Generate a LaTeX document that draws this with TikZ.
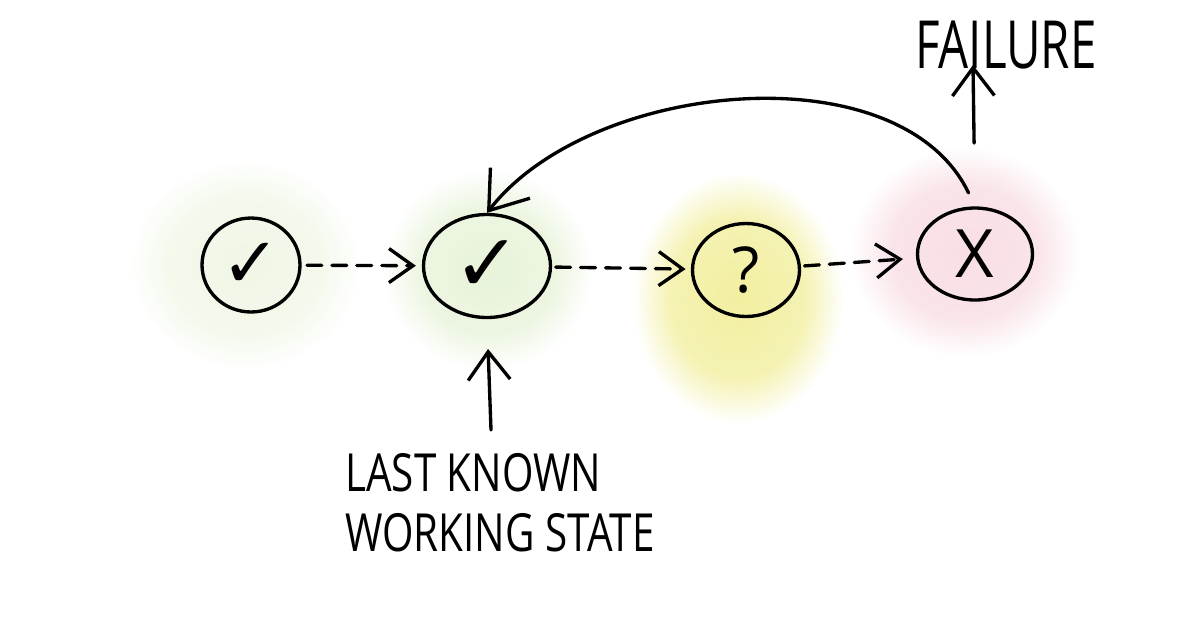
\documentclass[tikz,border=0pt]{standalone}
\usepackage{graphicx}
\usepackage{fontspec}
\setmainfont{Open Sans}
\newfontfamily\symfont{DejaVu Sans}
\usetikzlibrary{shapes.geometric,arrows.meta,fadings}
\definecolor{glowA}{HTML}{F0F7E6}
\definecolor{glowB}{HTML}{E8F3DA}
\definecolor{glowC}{HTML}{F2EFA0}
\definecolor{glowD}{HTML}{F8DEE4}
\pgfdeclareradialshading{glowshade}{\pgfpointorigin}{color(0bp)=(white); color(16bp)=(white!80!black); color(25bp)=(black); color(50bp)=(black)}
\pgfdeclarefading{glow}{\pgfuseshading{glowshade}}

\begin{document}
\begin{tikzpicture}[x=0.02cm, y=-0.02cm, line cap=round, line join=round]
  \tikzset{state/.style={draw, ellipse, line width=1.9pt, inner sep=0pt},
    dashnext/.style={line width=1.9pt, dash pattern=on 8.5pt off 5.7pt, -{Straight Barb[length=4.8mm, width=6.8mm]}},
    pointer/.style={line width=1.9pt, -{Straight Barb[length=5.6mm, width=8.4mm]}},
    hand/.style={inner sep=0pt, font=\fontsize{23}{34}\selectfont}}
  \useasboundingbox (0,0) rectangle (1200,627);
  % gloed
  \fill[glowA, path fading=glow] (245,265) ellipse [x radius=115, y radius=105];
  \fill[glowB, path fading=glow] (488,270) ellipse [x radius=105, y radius=100];
  \fill[glowC, path fading=glow] (738,298) ellipse [x radius=105, y radius=125];
  \fill[glowD, path fading=glow] (965,252) ellipse [x radius=115, y radius=105];
  % toestanden
  \node[state, minimum width=1.96cm, minimum height=1.88cm] (good) at (251,265) {\symfont\fontsize{40}{40}\selectfont ✓};
  \node[state, minimum width=2.54cm, minimum height=2.06cm] (lastgood) at (487,266) {\symfont\fontsize{46}{46}\selectfont ✓};
  \node[state, minimum width=2.14cm, minimum height=1.86cm] (unknown) at (746,270) {\fontsize{36}{36}\selectfont ?};
  \node[state, minimum width=2.3cm, minimum height=1.84cm] (fail) at (975,254) {\fontsize{38}{38}\selectfont X};
  % stappen
  \draw[dashnext, shorten <=3pt, shorten >=3.4pt] (good) -- (lastgood);
  \draw[dashnext, shorten <=2pt, shorten >=3pt] (lastgood) -- (unknown);
  \draw[dashnext, shorten <=2pt, shorten >=7.5pt] (unknown) -- (fail);
  % terug naar laatste goede
  \draw[line width=1.9pt, shorten <=8.5pt, -{Straight Barb[length=7mm, width=10mm]}]
    (fail.north) .. controls (900,50) and (590,80) .. (lastgood.north);
  % teksten
  \node[hand, font=\fontsize{27}{30}\selectfont, anchor=west] (failtxt) at (915,45) {\scalebox{1}[1.4]{FAILURE}};
  \coordinate (failtip) at (973,65);
  \draw[pointer, shorten <=36pt] (fail.north) -- (failtip);
  \node[hand, align=left, anchor=north west] (lkws) at (345,453) {\scalebox{1}[1.3]{LAST KNOWN}\\\scalebox{1}[1.3]{WORKING STATE}};
  \coordinate (lkwsfoot) at (491,430);
  \draw[pointer, shorten >=17pt] (lkwsfoot) -- (lastgood.south);
\end{tikzpicture}
\end{document}
